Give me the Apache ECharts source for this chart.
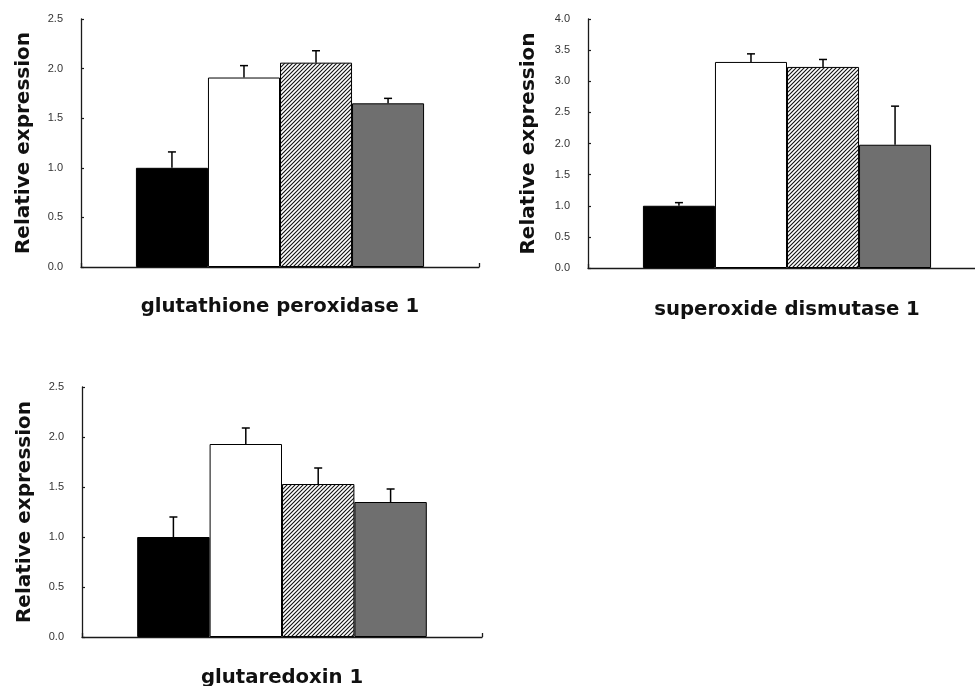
<!DOCTYPE html>
<html>
<head>
<meta charset="utf-8">
<script src="https://cdn.jsdelivr.net/npm/echarts@6/dist/echarts.min.js"></script>
<style>
html,body{margin:0;padding:0;background:#fff;}
#chart{width:975px;height:686px;}
</style>
</head>
<body>
<div id="chart"></div>
<script>
// ---- data ----
const genes = ['glutathione peroxidase 1', 'superoxide dismutase 1', 'glutaredoxin 1'];
const groups = ['Group 1', 'Group 2', 'Group 3', 'Group 4'];
const gpx1Means = [1.00, 1.91, 2.06, 1.65];
const gpx1Err   = [0.16, 0.12, 0.12, 0.05];
const sod1Means = [1.00, 3.31, 3.23, 1.98];
const sod1Err   = [0.05, 0.13, 0.12, 0.62];
const grx1Means = [1.00, 1.93, 1.53, 1.35];
const grx1Err   = [0.20, 0.16, 0.16, 0.13];
const yMaxes = [2.5, 4.0, 2.5];
const yInterval = 0.5;
const yAxisName = 'Relative expression';

// ---- styling ----
function hatch() {
  const s = 4;
  const c = document.createElement('canvas');
  c.width = s; c.height = s;
  const g = c.getContext('2d');
  g.fillStyle = '#fff'; g.fillRect(0, 0, s, s);
  g.strokeStyle = '#111'; g.lineWidth = 1.1;
  g.beginPath();
  g.moveTo(-1, s + 1); g.lineTo(s + 1, -1);
  g.moveTo(-1, 1); g.lineTo(1, -1);
  g.moveTo(s - 1, s + 1); g.lineTo(s + 1, s - 1);
  g.stroke();
  return c;
}
const fills = ['#000000', '#ffffff', { image: hatch(), repeat: 'repeat' }, '#6f6f6f'];
const gap = 0.276;
const grids = [
  { left: 81, top: 19, width: 398, height: 248, outerBoundsMode: 'none', containLabel: false },
  { left: 588, top: 19, width: 398, height: 249, outerBoundsMode: 'none', containLabel: false },
  { left: 82, top: 387, width: 400, height: 250, outerBoundsMode: 'none', containLabel: false }
];
const nameGaps = [30, 32, 31];
const yNameGaps = [47, 49, 47];
const means = [gpx1Means, sod1Means, grx1Means];
const errs = [gpx1Err, sod1Err, grx1Err];
const axisColor = '#1a1a1a';

const xAxes = [], yAxes = [], series = [];
genes.forEach(function (gene, p) {
  xAxes.push({
    gridIndex: p, type: 'category', data: [gene],
    name: gene, nameLocation: 'middle', nameGap: nameGaps[p],
    nameTextStyle: { fontFamily: 'DejaVu Sans', fontWeight: 'bold', fontSize: 19.7, color: '#111' },
    axisLine: { lineStyle: { color: axisColor, width: 1.3 } },
    axisTick: { show: true, inside: true, length: 4, lineStyle: { color: axisColor, width: 1.3 } },
    axisLabel: { show: false },
    splitLine: { show: false }
  });
  yAxes.push({
    gridIndex: p, type: 'value', min: 0, max: yMaxes[p], interval: yInterval,
    name: yAxisName, nameLocation: 'middle', nameGap: yNameGaps[p], nameRotate: 90,
    nameTextStyle: { fontFamily: 'DejaVu Sans', fontWeight: 'bold', fontSize: 20, color: '#111' },
    axisLine: { show: true, lineStyle: { color: axisColor, width: 1.3 } },
    axisTick: { show: true, inside: true, length: 3, lineStyle: { color: axisColor, width: 1.2 } },
    axisLabel: { margin: 18, fontSize: 11, color: '#333', fontFamily: 'Liberation Sans',
      formatter: function (v) { return v.toFixed(1); } },
    splitLine: { show: false }
  });
  groups.forEach(function (grp, i) {
    series.push({
      type: 'bar', name: grp, xAxisIndex: p, yAxisIndex: p,
      barGap: '0%', barCategoryGap: (gap * 100) + '%',
      data: [means[p][i]],
      itemStyle: { color: fills[i], borderColor: '#000', borderWidth: 1 },
      emphasis: { disabled: true },
      animation: false
    });
  });
  series.push({
    type: 'custom', xAxisIndex: p, yAxisIndex: p, z: 5,
    data: groups.map(function (g, i) { return [0, means[p][i], errs[p][i], i]; }),
    encode: { x: 0, y: 1 },
    renderItem: function (params, api) {
      const m = api.value(1), e = api.value(2), i = api.value(3);
      const band = api.size([1, 0])[0];
      const barW = band * (1 - gap);
      const base = api.coord([0, m]);
      const x = base[0] - barW / 2 + (i + 0.5) * barW / groups.length;
      const yTop = api.coord([0, m + e])[1];
      const yBot = base[1];
      const cap = 4;
      const style = { stroke: '#000', lineWidth: 1.5, fill: null };
      return {
        type: 'group',
        children: [
          { type: 'line', shape: { x1: x, y1: yBot, x2: x, y2: yTop }, style: style },
          { type: 'line', shape: { x1: x - cap, y1: yTop, x2: x + cap, y2: yTop }, style: style }
        ]
      };
    },
    animation: false
  });
});

const chart = echarts.init(document.getElementById('chart'), null, { renderer: 'canvas' });
chart.setOption({
  backgroundColor: '#fff',
  animation: false,
  grid: grids,
  xAxis: xAxes,
  yAxis: yAxes,
  series: series
});
</script>
</body>
</html>
